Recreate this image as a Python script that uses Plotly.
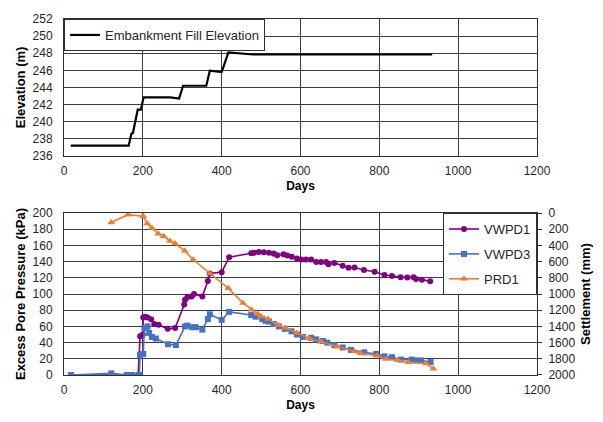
import plotly.graph_objects as go

# ---- Data ----
fill_days = [17, 164, 171, 175, 187, 195, 202, 270, 292, 302, 361, 370, 400, 417, 480, 934]
fill_elev = [237.2, 237.2, 238.6, 238.7, 241.4, 241.4, 242.85, 242.85, 242.7, 244.2, 244.2,
             245.95, 245.8, 248.1, 247.85, 247.85]

vwpd1_days = [18, 188, 193, 200, 201, 206, 212, 221, 229, 240, 263, 282, 305, 307, 313, 324, 330,
              351, 365, 370, 400, 419, 475, 482, 494, 507, 520, 532, 541, 557, 566, 578, 591, 602,
              614, 627, 640, 652, 665, 671, 686, 707, 722, 737, 761, 788, 813, 832, 854, 871, 887,
              893, 908, 929]
vwpd1_kpa = [0, 0, 48, 50, 71, 72, 71, 69, 63, 62, 57, 58, 87, 93, 96, 97, 100, 97, 116, 125.5,
             127, 145.5, 150.3, 151, 152, 151.5, 151, 150, 148, 149, 147.5, 146, 144, 142.5, 142.5,
             142.5, 139.6, 139.6, 139.6, 136.8, 138.4, 134.8, 132.4, 132.8, 129.6, 127.6, 123.5,
             122.3, 120.7, 120.3, 120.7, 118.7, 117.5, 115.9]

vwpd3_days = [18, 120, 159, 173, 191, 193, 201, 204, 212, 216, 223, 233, 264, 284, 307, 313, 324,
              334, 351, 365, 370, 400, 419, 475, 486, 503, 511, 520, 532, 545, 560, 577, 591, 606,
              627, 640, 657, 668, 686, 707, 728, 762, 792, 813, 832, 855, 882, 893, 906, 930]
vwpd3_kpa = [0, 2, 0, 0, 0, 25, 26, 58, 60, 52, 47, 45, 38, 37, 60, 61, 59, 59, 56, 69, 75, 68,
             78, 74, 72, 69, 67, 66, 63, 60, 57, 54, 50, 47, 46, 44, 42, 40, 37, 34, 31, 28, 26,
             23, 22, 19, 19, 18, 18, 16]

prd1_days = [120, 162, 201, 211, 223, 239, 253, 269, 282, 306, 328, 370, 417, 454, 476, 492, 500,
             518, 543, 562, 590, 623, 652, 693, 737, 752, 794, 817, 847, 874, 919, 937]
prd1_mm = [116, 20, 40, 128, 184, 256, 285, 345, 377, 465, 577, 745, 930, 1110, 1195, 1246, 1278,
           1307, 1385, 1418, 1480, 1549, 1590, 1650, 1710, 1730, 1763, 1803, 1819, 1843, 1859, 1923]

FONT = "Liberation Sans, Arial, sans-serif"
GRID = "#3c3c3c"

fig = go.Figure()

fig.add_trace(go.Scatter(x=fill_days, y=fill_elev, mode="lines", name="Embankment Fill Elevation",
                         line=dict(color="black", width=2.2), xaxis="x", yaxis="y",
                         legend="legend"))

fig.add_trace(go.Scatter(x=vwpd1_days, y=vwpd1_kpa, mode="lines+markers", name="VWPD1",
                         line=dict(color="#800080", width=1.6),
                         marker=dict(symbol="circle", size=6, color="#800080"),
                         xaxis="x2", yaxis="y2", legend="legend2", legendgroup="a"))
fig.add_trace(go.Scatter(x=vwpd3_days, y=vwpd3_kpa, mode="lines+markers", name="VWPD3",
                         line=dict(color="#4472C4", width=1.6),
                         marker=dict(symbol="square", size=6, color="#4472C4"),
                         xaxis="x2", yaxis="y2", legend="legend2", legendgroup="b"))
fig.add_trace(go.Scatter(x=prd1_days, y=prd1_mm, mode="lines+markers", name="PRD1",
                         line=dict(color="#ED7D31", width=1.6),
                         marker=dict(symbol="triangle-up", size=7, color="#ED7D31"),
                         xaxis="x2", yaxis="y3", legend="legend2", legendgroup="c"))

tickfont = dict(family=FONT, size=12, color="#262626")
titlefont = dict(family=FONT, size=13, color="black", weight="bold")

axis_common = dict(showgrid=True, gridcolor=GRID, gridwidth=1, showline=True, linecolor="#303030",
                   linewidth=1, mirror=True, zeroline=False, tickfont=tickfont, ticks="")

fig.update_layout(
    width=603, height=422,
    margin=dict(l=64, r=63, t=13, b=44),
    paper_bgcolor="white", plot_bgcolor="white",
    font=dict(family=FONT),
    xaxis=dict(domain=[0, 1], anchor="y", range=[0, 1200], dtick=200,
               title=dict(text="Days", font=dict(family=FONT, size=12, color="black", weight="bold"),
                          standoff=4),
               ticklabelstandoff=4, **axis_common),
    yaxis=dict(domain=[0.6154, 1], anchor="x", range=[236, 252], dtick=2,
               title=dict(text="Elevation (m)", font=titlefont, standoff=4),
               ticklabelstandoff=8, **axis_common),
    xaxis2=dict(domain=[0, 1], anchor="y2", range=[0, 1200], dtick=200,
                title=dict(text="Days", font=dict(family=FONT, size=12, color="black", weight="bold"),
                           standoff=4),
                ticklabelstandoff=4, **axis_common),
    yaxis2=dict(domain=[0, 0.4549], anchor="x2", range=[0, 200], dtick=20,
                title=dict(text="Excess Pore Pressure (kPa)", font=titlefont, standoff=4),
                ticklabelstandoff=8, **axis_common),
    yaxis3=dict(overlaying="y2", anchor="x2", side="right", range=[2000, 0], dtick=200,
                showgrid=False, showline=True, linecolor="#303030", zeroline=False,
                ticks="outside", ticklen=4, tickcolor="#303030", tickfont=tickfont,
                ticklabelstandoff=4,
                title=dict(text="Settlement (mm)", font=titlefont, standoff=6)),
    legend=dict(x=0, y=1, xref="paper", yref="paper", xanchor="left", yanchor="top",
                orientation="h", bgcolor="white", bordercolor="#303030", borderwidth=1,
                tracegroupgap=0, itemwidth=30,
                font=dict(family=FONT, size=13, color="#262626")),
    legend2=dict(x=1, y=0.4549, xref="paper", yref="paper", xanchor="right", yanchor="top",
                 orientation="v", bgcolor="white", bordercolor="#303030", borderwidth=1,
                 tracegroupgap=5,
                 font=dict(family=FONT, size=13, color="#262626")),
    showlegend=True,
)

fig.write_html("out.html")
